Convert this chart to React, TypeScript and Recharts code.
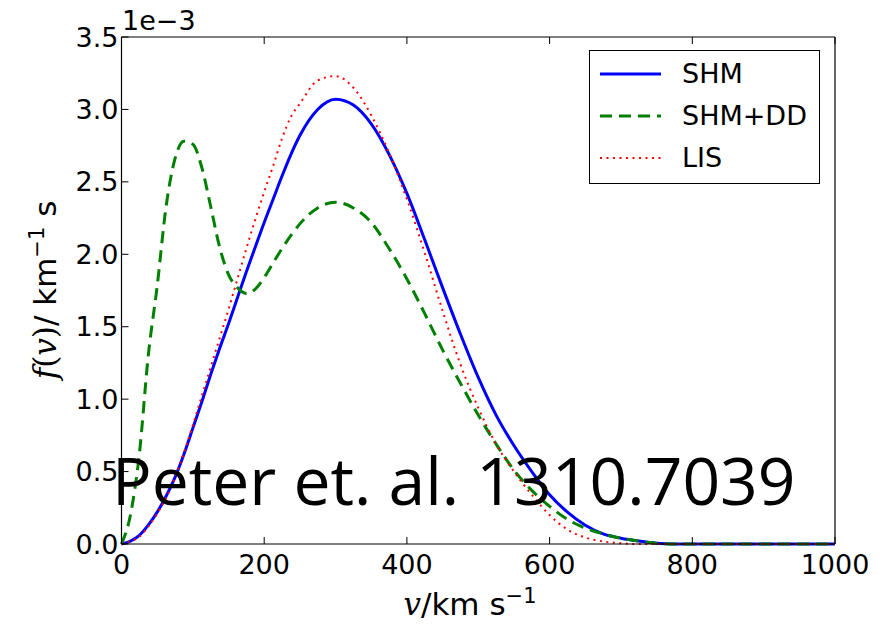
import { LineChart, Line, XAxis, YAxis, Legend } from 'recharts';

// velocity grid, km/s
const velocity = [
  0, 12.5, 25, 37.5, 50, 62.5, 75, 87.5, 100, 112.5, 125, 137.5, 150, 162.5, 175, 187.5, 200,
  212.5, 225, 237.5, 250, 275, 300, 325, 350, 375, 400, 425, 450, 475, 500, 525, 550, 575, 600,
  625, 650, 675, 700, 725, 750, 775, 800, 850, 900, 950, 1000,
];

// f(v) in units of 1e-3 km^-1 s
const shm = [
  0, 0.02, 0.06, 0.13, 0.22, 0.33, 0.46, 0.62, 0.8, 0.98, 1.17, 1.35, 1.52, 1.7, 1.88, 2.05, 2.22,
  2.38, 2.54, 2.69, 2.82, 3.0, 3.07, 3.03, 2.9, 2.69, 2.42, 2.1, 1.77, 1.45, 1.15, 0.89, 0.68, 0.5, 0.34,
  0.22, 0.13, 0.07, 0.04, 0.02, 0.005, 0, 0, 0, 0, 0, 0,
];
const shmDD = [
  0, 0.2, 0.62, 1.3, 1.78, 2.33, 2.66, 2.78, 2.76, 2.6, 2.33, 2.05, 1.86, 1.77, 1.73, 1.76, 1.84,
  1.94, 2.04, 2.13, 2.21, 2.32, 2.36, 2.32, 2.22, 2.04, 1.83, 1.59, 1.34, 1.11, 0.89, 0.69, 0.51, 0.37, 0.26,
  0.17, 0.11, 0.07, 0.04, 0.02, 0.005, 0, 0, 0, 0, 0, 0,
];
const lis = [
  0, 0.02, 0.05, 0.12, 0.21, 0.32, 0.46, 0.63, 0.82, 1.02, 1.22, 1.42, 1.62, 1.83, 2.04, 2.24, 2.43,
  2.61, 2.8, 2.95, 3.04, 3.2, 3.23, 3.15, 2.96, 2.7, 2.38, 2.01, 1.61, 1.24, 0.94, 0.69, 0.5, 0.34, 0.2,
  0.1, 0.045, 0.018, 0.005, 0, 0, 0, 0, 0, 0, 0, 0,
];

const xTicks = [0, 200, 400, 600, 800, 1000];
const yTicks = [0, 0.5, 1.0, 1.5, 2.0, 2.5, 3.0, 3.5];

const legendItems = [
  { name: 'SHM', color: '#0000ff', dash: undefined, width: 3 },
  { name: 'SHM+DD', color: '#008000', dash: '12 7', width: 3 },
  { name: 'LIS', color: '#ff0000', dash: '2 4.5', width: 2 },
];

const font = '"DejaVu Sans", sans-serif';
const serif = '"DejaVu Serif", serif';

const data = velocity.map((v, i) => ({ v, shm: shm[i], shmDD: shmDD[i], lis: lis[i] }));

const emptyTick = () => <g />;

function LegendBox() {
  return (
    <div
      style={{
        position: 'relative',
        width: 229,
        height: 132,
        border: '1.5px solid #000',
        background: '#fff',
        fontFamily: font,
        fontSize: 27,
        boxSizing: 'content-box',
      }}
    >
      {legendItems.map((item, i) => (
        <div key={item.name} style={{ position: 'absolute', left: 0, top: 7 + i * 42, height: 32, display: 'flex', alignItems: 'center' }}>
          <svg width={80} height={32} style={{ display: 'block' }}>
            <line x1={10} x2={71} y1={16} y2={16} stroke={item.color} strokeWidth={item.width} strokeDasharray={item.dash} />
          </svg>
          <span style={{ marginLeft: 12, color: '#000', lineHeight: '32px' }}>{item.name}</span>
        </div>
      ))}
    </div>
  );
}

export default function App() {
  return (
    <div style={{ position: 'absolute', left: 0, top: 0, width: 892, height: 627, background: '#fff', fontFamily: font }}>
      <LineChart width={892} height={627} data={data} margin={{ top: 36, right: 56, bottom: 43, left: 61.5 }}>
        <XAxis
          dataKey="v"
          type="number"
          domain={[0, 1000]}
          ticks={xTicks}
          tickSize={-7}
          tickMargin={18}
          height={40}
          tick={{ fill: '#000', fontSize: 27, fontFamily: font }}
          axisLine={{ stroke: '#000', strokeWidth: 1.2 }}
          tickLine={{ stroke: '#000' }}
        />
        <XAxis
          xAxisId="top"
          orientation="top"
          dataKey="v"
          type="number"
          domain={[0, 1000]}
          ticks={xTicks}
          tickSize={-7}
          height={1}
          tick={emptyTick}
          axisLine={{ stroke: '#000', strokeWidth: 1.2 }}
          tickLine={{ stroke: '#000' }}
        />
        <YAxis
          type="number"
          domain={[0, 3.5]}
          ticks={yTicks}
          tickFormatter={(t: number) => t.toFixed(1)}
          tickSize={-7}
          tickMargin={10}
          width={60}
          tick={{ fill: '#000', fontSize: 27, fontFamily: font }}
          axisLine={{ stroke: '#000', strokeWidth: 1.2 }}
          tickLine={{ stroke: '#000' }}
        />
        <YAxis
          yAxisId="right"
          orientation="right"
          type="number"
          domain={[0, 3.5]}
          ticks={yTicks}
          tickSize={-7}
          width={1}
          tick={emptyTick}
          axisLine={{ stroke: '#000', strokeWidth: 1.2 }}
          tickLine={{ stroke: '#000' }}
        />
        <Line type="monotone" dataKey="shm" name="SHM" stroke="#0000ff" strokeWidth={3} dot={false} isAnimationActive={false} />
        <Line type="monotone" dataKey="shmDD" name="SHM+DD" stroke="#008000" strokeWidth={3} strokeDasharray="12 7" dot={false} isAnimationActive={false} />
        <Line type="monotone" dataKey="lis" name="LIS" stroke="#ff0000" strokeWidth={2} strokeDasharray="2 4.5" dot={false} isAnimationActive={false} />
        <Legend
          layout="horizontal"
          verticalAlign="middle"
          align="center"
          content={() => <LegendBox />}
          wrapperStyle={{ position: 'absolute', left: 589, top: 50, width: 232, height: 135 }}
        />
      </LineChart>

      {/* offset text */}
      <div style={{ position: 'absolute', left: 122, top: 3, fontSize: 27, color: '#000', lineHeight: '36px' }}>1e−3</div>

      {/* y label */}
      <div
        style={{
          position: 'absolute',
          left: 44,
          top: 290,
          transform: 'translate(-50%, -50%) rotate(-90deg)',
          whiteSpace: 'nowrap',
          fontSize: 31,
          color: '#000',
        }}
      >
        <span style={{ fontFamily: serif, fontStyle: 'italic' }}>f</span>
        <span style={{ fontFamily: serif }}>(</span>
        <span style={{ fontFamily: serif, fontStyle: 'italic' }}>v</span>
        <span style={{ fontFamily: serif }}>)</span>/ km<sup style={{ fontSize: 21 }}>−1</sup> s
      </div>

      {/* x label */}
      <div
        style={{
          position: 'absolute',
          left: 470,
          top: 603,
          transform: 'translate(-50%, -50%)',
          whiteSpace: 'nowrap',
          fontSize: 31,
          color: '#000',
        }}
      >
        <span style={{ fontFamily: serif, fontStyle: 'italic' }}>v</span>/km s<sup style={{ fontSize: 21 }}>−1</sup>
      </div>

      {/* overlay annotation */}
      <div
        style={{
          position: 'absolute',
          left: 112,
          top: 440,
          fontFamily: '"Open Sans", sans-serif',
          fontSize: 66,
          color: '#000',
          whiteSpace: 'nowrap',
          lineHeight: 1.2,
        }}
      >
        Peter et. al. 1310.7039
      </div>
    </div>
  );
}
